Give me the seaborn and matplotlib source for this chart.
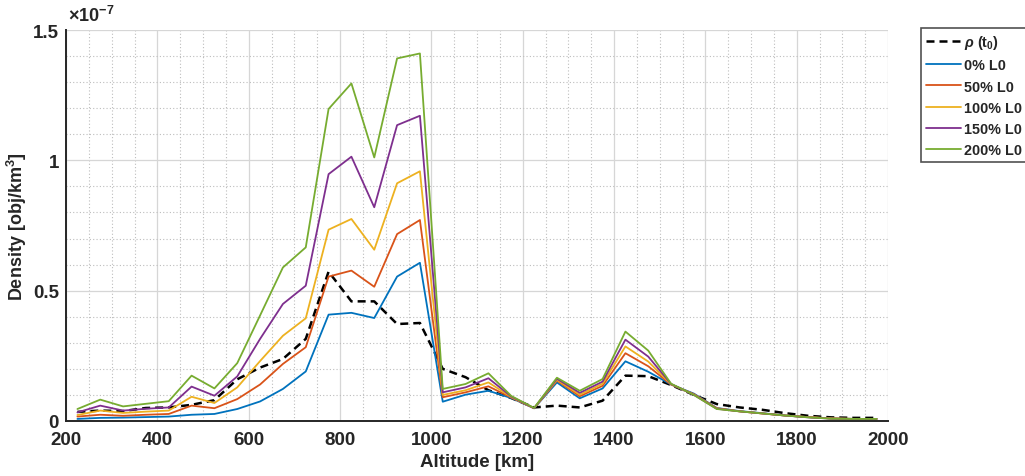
import numpy as np
import pandas as pd
import matplotlib
matplotlib.use("Agg")
import matplotlib.pyplot as plt
from matplotlib.ticker import MultipleLocator, FuncFormatter
import seaborn as sns

# Altitude bin centres [km]
altitude = [225, 275, 325, 375, 425, 475, 525, 575, 625, 675, 725, 775,
            825, 875, 925, 975, 1025, 1075, 1125, 1175, 1225, 1275, 1325, 1375,
            1425, 1475, 1525, 1575, 1625, 1675, 1725, 1775, 1825, 1875, 1925, 1975]

# Spatial density in units of 1e-7 obj/km^3
rho_t0 = [0.035, 0.040, 0.038, 0.050, 0.052, 0.062, 0.080, 0.160, 0.205, 0.238, 0.315, 0.573,
          0.459, 0.459, 0.372, 0.376, 0.200, 0.168, 0.118, 0.088, 0.052, 0.059, 0.052, 0.078,
          0.174, 0.172, 0.138, 0.100, 0.065, 0.052, 0.043, 0.030, 0.020, 0.014, 0.012, 0.012]
l0_0 = [0.008, 0.012, 0.013, 0.015, 0.017, 0.024, 0.027, 0.046, 0.075, 0.123, 0.190, 0.408,
        0.415, 0.395, 0.554, 0.607, 0.074, 0.101, 0.116, 0.088, 0.049, 0.148, 0.087, 0.125,
        0.229, 0.189, 0.140, 0.105, 0.050, 0.038, 0.030, 0.021, 0.015, 0.010, 0.008, 0.008]
l0_50 = [0.017, 0.024, 0.020, 0.024, 0.027, 0.059, 0.049, 0.084, 0.140, 0.219, 0.283, 0.554,
         0.577, 0.515, 0.717, 0.771, 0.091, 0.110, 0.133, 0.090, 0.049, 0.155, 0.095, 0.135,
         0.260, 0.210, 0.140, 0.103, 0.049, 0.037, 0.029, 0.021, 0.015, 0.010, 0.008, 0.008]
l0_100 = [0.023, 0.040, 0.031, 0.036, 0.040, 0.093, 0.069, 0.129, 0.230, 0.327, 0.394, 0.734,
          0.775, 0.657, 0.912, 0.958, 0.100, 0.118, 0.148, 0.092, 0.049, 0.158, 0.101, 0.143,
          0.286, 0.228, 0.141, 0.101, 0.048, 0.037, 0.029, 0.021, 0.015, 0.010, 0.008, 0.008]
l0_150 = [0.033, 0.059, 0.040, 0.047, 0.052, 0.132, 0.097, 0.171, 0.315, 0.449, 0.519, 0.947,
          1.014, 0.820, 1.135, 1.171, 0.110, 0.129, 0.164, 0.094, 0.049, 0.162, 0.108, 0.151,
          0.312, 0.247, 0.142, 0.100, 0.047, 0.037, 0.029, 0.021, 0.014, 0.009, 0.008, 0.008]
l0_200 = [0.046, 0.082, 0.056, 0.066, 0.076, 0.174, 0.125, 0.222, 0.405, 0.589, 0.666, 1.197,
          1.295, 1.011, 1.391, 1.410, 0.123, 0.142, 0.183, 0.096, 0.050, 0.166, 0.116, 0.161,
          0.343, 0.270, 0.143, 0.100, 0.046, 0.037, 0.029, 0.021, 0.014, 0.009, 0.008, 0.008]

SCALE = 1e-7
series_labels = ["0% L0", "50% L0", "100% L0", "150% L0", "200% L0"]
series_values = [l0_0, l0_50, l0_100, l0_150, l0_200]
series_colors = ["#0072BD", "#D95319", "#EDB120", "#7E2F8E", "#77AC30"]
ref_label = r"$\mathit{\rho}$ (t$_{0}$)"

sns.set_style("white")
plt.rcParams["font.family"] = ["Liberation Sans", "DejaVu Sans"]
plt.rcParams["font.weight"] = "bold"
plt.rcParams["mathtext.fontset"] = "custom"
plt.rcParams["mathtext.rm"] = "Liberation Sans:bold"
plt.rcParams["mathtext.bf"] = "Liberation Sans:bold"
plt.rcParams["mathtext.it"] = "Liberation Sans:italic"
plt.rcParams["mathtext.default"] = "rm"

fig = plt.figure(figsize=(10.25, 4.77), dpi=100)
ax = fig.add_axes([66 / 1025, 55 / 477, 822 / 1025, 391 / 477])

df_ref = pd.DataFrame({"alt": altitude, "density": np.array(rho_t0) * SCALE})
sns.lineplot(data=df_ref, x="alt", y="density", ax=ax, color="black",
             linewidth=1.8, label=ref_label)
ax.lines[-1].set_dashes((3.2, 2.0))

for lab, vals, col in zip(series_labels, series_values, series_colors):
    d = pd.DataFrame({"alt": altitude, "density": np.array(vals) * SCALE})
    sns.lineplot(data=d, x="alt", y="density", ax=ax, color=col,
                 linewidth=1.3, label=lab)

ax.set_xlim(200, 2000)
ax.set_ylim(0, 1.5 * SCALE)
ax.xaxis.set_major_locator(MultipleLocator(200))
ax.xaxis.set_minor_locator(MultipleLocator(50))
ax.yaxis.set_major_locator(MultipleLocator(0.5 * SCALE))
ax.yaxis.set_minor_locator(MultipleLocator(0.1 * SCALE))
ax.yaxis.set_major_formatter(FuncFormatter(lambda v, p: f"{v / SCALE:g}"))

ax.set_axisbelow(True)
ax.grid(which="major", color="#d6d6d6", linewidth=0.9, linestyle="-")
ax.grid(which="minor", color="#bdbdbd", linewidth=0.8, linestyle=(0, (1, 2)))

for side in ("top", "right"):
    ax.spines[side].set_visible(False)
for side in ("left", "bottom"):
    ax.spines[side].set_color("#262626")
    ax.spines[side].set_linewidth(1.4)

ax.tick_params(which="major", direction="in", length=5, width=1.2,
               colors="#262626", labelsize=13.5)
ax.tick_params(axis="x", which="major", pad=7)
ax.tick_params(axis="y", which="major", pad=5)
ax.tick_params(which="minor", length=0)
for t in ax.get_xticklabels() + ax.get_yticklabels():
    t.set_fontweight("bold")

ax.set_xlabel("Altitude [km]", fontsize=13.5, fontweight="bold",
              color="#262626", labelpad=4)
ax.set_ylabel("Density [obj/km$^{3}$]", fontsize=13, fontweight="bold",
              color="#262626", labelpad=3)
ax.text(0.002, 1.012, r"$\times$10$^{-7}$", transform=ax.transAxes,
        fontsize=13, color="#262626", ha="left", va="bottom")

leg = ax.legend(loc="upper left", bbox_to_anchor=(921 / 1025, 1 - 29 / 477),
                bbox_transform=fig.transFigure, frameon=True, fancybox=False,
                fontsize=10.4, handlelength=2.4, handletextpad=0.2,
                labelspacing=0.5, borderpad=0.35, borderaxespad=0)
leg.get_frame().set_edgecolor("#262626")
leg.get_frame().set_linewidth(1.2)
for t in leg.get_texts():
    t.set_fontweight("bold")

fig.savefig("out.png", dpi=100)
